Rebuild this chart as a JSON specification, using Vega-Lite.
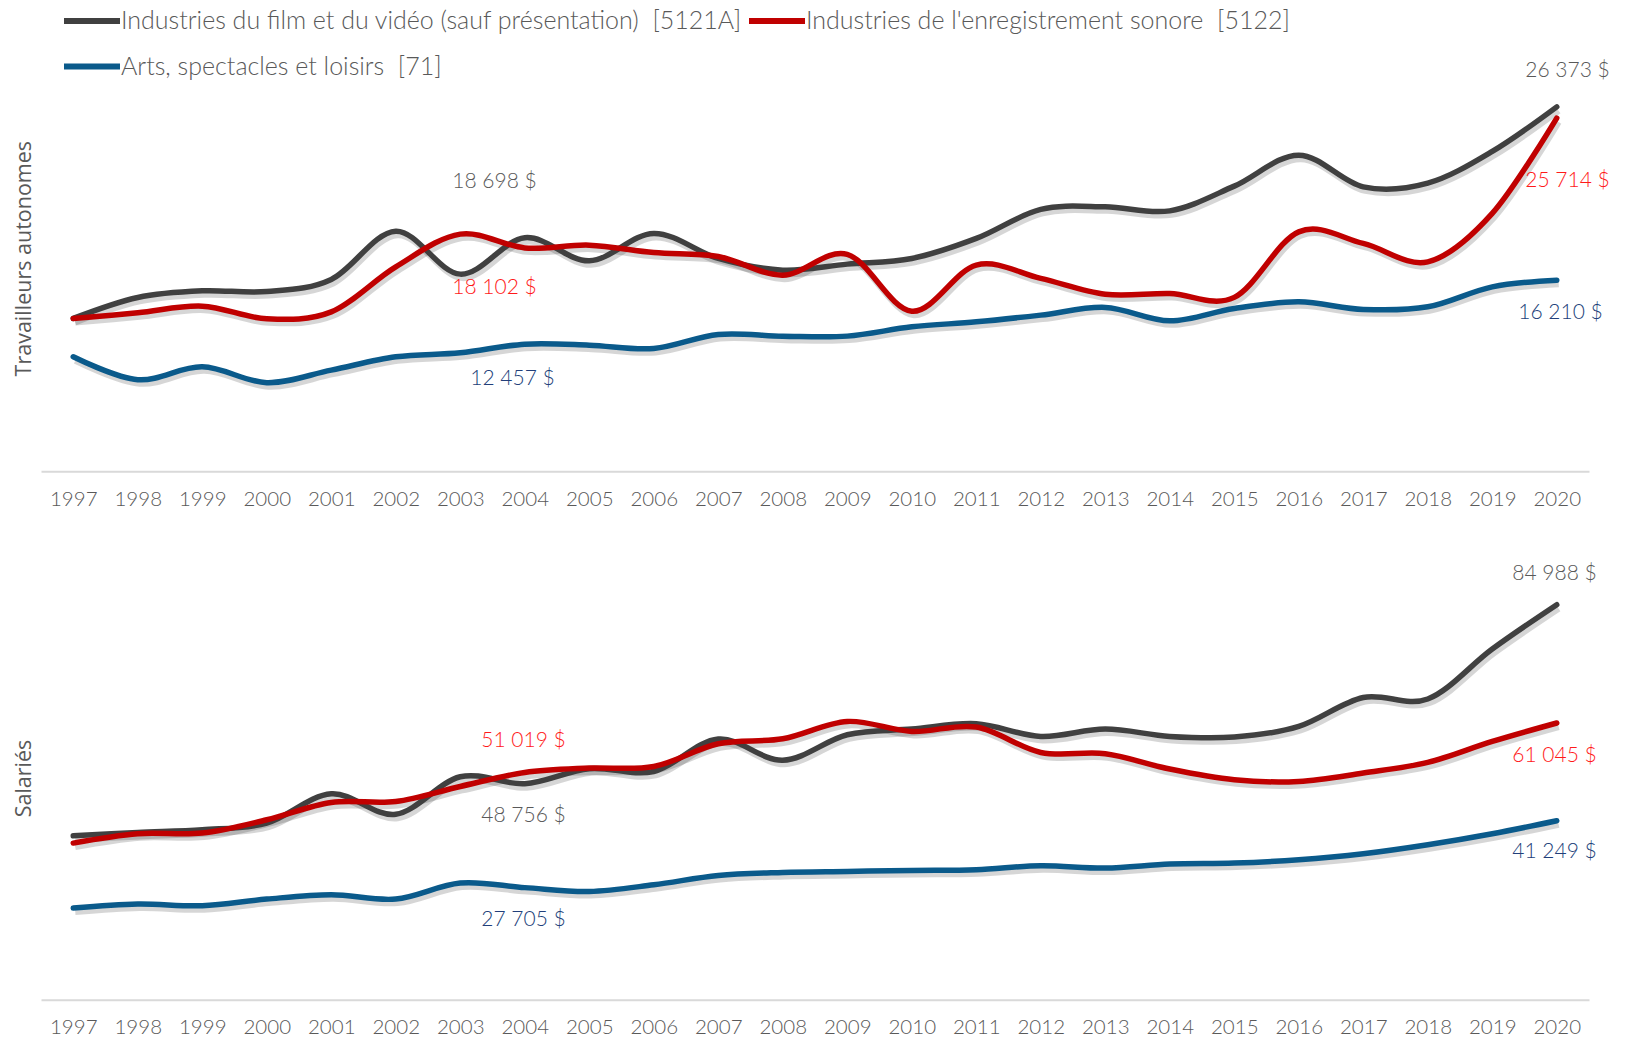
{
  "$schema": "https://vega.github.io/schema/vega-lite/v6.json",
  "background": "white",
  "autosize": {"type": "pad"},
  "padding": {"left": 13, "top": -10, "right": 0, "bottom": 0},
  "bounds": "flush",
  "spacing": 108,
  "config": {
    "locale": {"number": {"decimal": ",", "thousands": "\u00a0", "grouping": [3], "currency": ["", "\u00a0$"]}},
    "view": {"stroke": null},
    "font": "Lato",
    "text": {"fontWeight": 300, "fontSize": 21}
  },
  "datasets": {
    "autonomes": [
      {"code": "5121A", "series": "Industries du film et du vidéo (sauf présentation)\u00a0 [5121A]", "year": 1997, "value": 13965},
      {"code": "5121A", "series": "Industries du film et du vidéo (sauf présentation)\u00a0 [5121A]", "year": 1998, "value": 15196},
      {"code": "5121A", "series": "Industries du film et du vidéo (sauf présentation)\u00a0 [5121A]", "year": 1999, "value": 15583},
      {"code": "5121A", "series": "Industries du film et du vidéo (sauf présentation)\u00a0 [5121A]", "year": 2000, "value": 15544},
      {"code": "5121A", "series": "Industries du film et du vidéo (sauf présentation)\u00a0 [5121A]", "year": 2001, "value": 16252},
      {"code": "5121A", "series": "Industries du film et du vidéo (sauf présentation)\u00a0 [5121A]", "year": 2002, "value": 19084},
      {"code": "5121A", "series": "Industries du film et du vidéo (sauf présentation)\u00a0 [5121A]", "year": 2003, "value": 16563},
      {"code": "5121A", "series": "Industries du film et du vidéo (sauf présentation)\u00a0 [5121A]", "year": 2004, "value": 18698},
      {"code": "5121A", "series": "Industries du film et du vidéo (sauf présentation)\u00a0 [5121A]", "year": 2005, "value": 17342},
      {"code": "5121A", "series": "Industries du film et du vidéo (sauf présentation)\u00a0 [5121A]", "year": 2006, "value": 18949},
      {"code": "5121A", "series": "Industries du film et du vidéo (sauf présentation)\u00a0 [5121A]", "year": 2007, "value": 17483},
      {"code": "5121A", "series": "Industries du film et du vidéo (sauf présentation)\u00a0 [5121A]", "year": 2008, "value": 16797},
      {"code": "5121A", "series": "Industries du film et du vidéo (sauf présentation)\u00a0 [5121A]", "year": 2009, "value": 17149},
      {"code": "5121A", "series": "Industries du film et du vidéo (sauf présentation)\u00a0 [5121A]", "year": 2010, "value": 17483},
      {"code": "5121A", "series": "Industries du film et du vidéo (sauf présentation)\u00a0 [5121A]", "year": 2011, "value": 18656},
      {"code": "5121A", "series": "Industries du film et du vidéo (sauf présentation)\u00a0 [5121A]", "year": 2012, "value": 20356},
      {"code": "5121A", "series": "Industries du film et du vidéo (sauf présentation)\u00a0 [5121A]", "year": 2013, "value": 20509},
      {"code": "5121A", "series": "Industries du film et du vidéo (sauf présentation)\u00a0 [5121A]", "year": 2014, "value": 20274},
      {"code": "5121A", "series": "Industries du film et du vidéo (sauf présentation)\u00a0 [5121A]", "year": 2015, "value": 21723},
      {"code": "5121A", "series": "Industries du film et du vidéo (sauf présentation)\u00a0 [5121A]", "year": 2016, "value": 23541},
      {"code": "5121A", "series": "Industries du film et du vidéo (sauf présentation)\u00a0 [5121A]", "year": 2017, "value": 21682},
      {"code": "5121A", "series": "Industries du film et du vidéo (sauf présentation)\u00a0 [5121A]", "year": 2018, "value": 21900},
      {"code": "5121A", "series": "Industries du film et du vidéo (sauf présentation)\u00a0 [5121A]", "year": 2019, "value": 23760},
      {"code": "5121A", "series": "Industries du film et du vidéo (sauf présentation)\u00a0 [5121A]", "year": 2020, "value": 26373},
      {"code": "5122", "series": "Industries de l'enregistrement sonore\u00a0 [5122]", "year": 1997, "value": 13965},
      {"code": "5122", "series": "Industries de l'enregistrement sonore\u00a0 [5122]", "year": 1998, "value": 14293},
      {"code": "5122", "series": "Industries de l'enregistrement sonore\u00a0 [5122]", "year": 1999, "value": 14686},
      {"code": "5122", "series": "Industries de l'enregistrement sonore\u00a0 [5122]", "year": 2000, "value": 13945},
      {"code": "5122", "series": "Industries de l'enregistrement sonore\u00a0 [5122]", "year": 2001, "value": 14352},
      {"code": "5122", "series": "Industries de l'enregistrement sonore\u00a0 [5122]", "year": 2002, "value": 16991},
      {"code": "5122", "series": "Industries de l'enregistrement sonore\u00a0 [5122]", "year": 2003, "value": 18908},
      {"code": "5122", "series": "Industries de l'enregistrement sonore\u00a0 [5122]", "year": 2004, "value": 18102},
      {"code": "5122", "series": "Industries de l'enregistrement sonore\u00a0 [5122]", "year": 2005, "value": 18263},
      {"code": "5122", "series": "Industries de l'enregistrement sonore\u00a0 [5122]", "year": 2006, "value": 17830},
      {"code": "5122", "series": "Industries de l'enregistrement sonore\u00a0 [5122]", "year": 2007, "value": 17600},
      {"code": "5122", "series": "Industries de l'enregistrement sonore\u00a0 [5122]", "year": 2008, "value": 16504},
      {"code": "5122", "series": "Industries de l'enregistrement sonore\u00a0 [5122]", "year": 2009, "value": 17720},
      {"code": "5122", "series": "Industries de l'enregistrement sonore\u00a0 [5122]", "year": 2010, "value": 14390},
      {"code": "5122", "series": "Industries de l'enregistrement sonore\u00a0 [5122]", "year": 2011, "value": 17095},
      {"code": "5122", "series": "Industries de l'enregistrement sonore\u00a0 [5122]", "year": 2012, "value": 16310},
      {"code": "5122", "series": "Industries de l'enregistrement sonore\u00a0 [5122]", "year": 2013, "value": 15380},
      {"code": "5122", "series": "Industries de l'enregistrement sonore\u00a0 [5122]", "year": 2014, "value": 15430},
      {"code": "5122", "series": "Industries de l'enregistrement sonore\u00a0 [5122]", "year": 2015, "value": 15200},
      {"code": "5122", "series": "Industries de l'enregistrement sonore\u00a0 [5122]", "year": 2016, "value": 19043},
      {"code": "5122", "series": "Industries de l'enregistrement sonore\u00a0 [5122]", "year": 2017, "value": 18363},
      {"code": "5122", "series": "Industries de l'enregistrement sonore\u00a0 [5122]", "year": 2018, "value": 17284},
      {"code": "5122", "series": "Industries de l'enregistrement sonore\u00a0 [5122]", "year": 2019, "value": 20122},
      {"code": "5122", "series": "Industries de l'enregistrement sonore\u00a0 [5122]", "year": 2020, "value": 25714},
      {"code": "71", "series": "Arts, spectacles et loisirs\u00a0 [71]", "year": 1997, "value": 11713},
      {"code": "71", "series": "Arts, spectacles et loisirs\u00a0 [71]", "year": 1998, "value": 10370},
      {"code": "71", "series": "Arts, spectacles et loisirs\u00a0 [71]", "year": 1999, "value": 11127},
      {"code": "71", "series": "Arts, spectacles et loisirs\u00a0 [71]", "year": 2000, "value": 10200},
      {"code": "71", "series": "Arts, spectacles et loisirs\u00a0 [71]", "year": 2001, "value": 10933},
      {"code": "71", "series": "Arts, spectacles et loisirs\u00a0 [71]", "year": 2002, "value": 11713},
      {"code": "71", "series": "Arts, spectacles et loisirs\u00a0 [71]", "year": 2003, "value": 11948},
      {"code": "71", "series": "Arts, spectacles et loisirs\u00a0 [71]", "year": 2004, "value": 12457},
      {"code": "71", "series": "Arts, spectacles et loisirs\u00a0 [71]", "year": 2005, "value": 12399},
      {"code": "71", "series": "Arts, spectacles et loisirs\u00a0 [71]", "year": 2006, "value": 12205},
      {"code": "71", "series": "Arts, spectacles et loisirs\u00a0 [71]", "year": 2007, "value": 13027},
      {"code": "71", "series": "Arts, spectacles et loisirs\u00a0 [71]", "year": 2008, "value": 12927},
      {"code": "71", "series": "Arts, spectacles et loisirs\u00a0 [71]", "year": 2009, "value": 12927},
      {"code": "71", "series": "Arts, spectacles et loisirs\u00a0 [71]", "year": 2010, "value": 13472},
      {"code": "71", "series": "Arts, spectacles et loisirs\u00a0 [71]", "year": 2011, "value": 13765},
      {"code": "71", "series": "Arts, spectacles et loisirs\u00a0 [71]", "year": 2012, "value": 14158},
      {"code": "71", "series": "Arts, spectacles et loisirs\u00a0 [71]", "year": 2013, "value": 14610},
      {"code": "71", "series": "Arts, spectacles et loisirs\u00a0 [71]", "year": 2014, "value": 13824},
      {"code": "71", "series": "Arts, spectacles et loisirs\u00a0 [71]", "year": 2015, "value": 14551},
      {"code": "71", "series": "Arts, spectacles et loisirs\u00a0 [71]", "year": 2016, "value": 14938},
      {"code": "71", "series": "Arts, spectacles et loisirs\u00a0 [71]", "year": 2017, "value": 14492},
      {"code": "71", "series": "Arts, spectacles et loisirs\u00a0 [71]", "year": 2018, "value": 14645},
      {"code": "71", "series": "Arts, spectacles et loisirs\u00a0 [71]", "year": 2019, "value": 15818},
      {"code": "71", "series": "Arts, spectacles et loisirs\u00a0 [71]", "year": 2020, "value": 16210}
    ],
    "salaries": [
      {"code": "5121A", "series": "Industries du film et du vidéo (sauf présentation)\u00a0 [5121A]", "year": 1997, "value": 38210},
      {"code": "5121A", "series": "Industries du film et du vidéo (sauf présentation)\u00a0 [5121A]", "year": 1998, "value": 38885},
      {"code": "5121A", "series": "Industries du film et du vidéo (sauf présentation)\u00a0 [5121A]", "year": 1999, "value": 39425},
      {"code": "5121A", "series": "Industries du film et du vidéo (sauf présentation)\u00a0 [5121A]", "year": 2000, "value": 40775},
      {"code": "5121A", "series": "Industries du film et du vidéo (sauf présentation)\u00a0 [5121A]", "year": 2001, "value": 46715},
      {"code": "5121A", "series": "Industries du film et du vidéo (sauf présentation)\u00a0 [5121A]", "year": 2002, "value": 42565},
      {"code": "5121A", "series": "Industries du film et du vidéo (sauf présentation)\u00a0 [5121A]", "year": 2003, "value": 50150},
      {"code": "5121A", "series": "Industries du film et du vidéo (sauf présentation)\u00a0 [5121A]", "year": 2004, "value": 48756},
      {"code": "5121A", "series": "Industries du film et du vidéo (sauf présentation)\u00a0 [5121A]", "year": 2005, "value": 51800},
      {"code": "5121A", "series": "Industries du film et du vidéo (sauf présentation)\u00a0 [5121A]", "year": 2006, "value": 51232},
      {"code": "5121A", "series": "Industries du film et du vidéo (sauf présentation)\u00a0 [5121A]", "year": 2007, "value": 57800},
      {"code": "5121A", "series": "Industries du film et du vidéo (sauf présentation)\u00a0 [5121A]", "year": 2008, "value": 53500},
      {"code": "5121A", "series": "Industries du film et du vidéo (sauf présentation)\u00a0 [5121A]", "year": 2009, "value": 58663},
      {"code": "5121A", "series": "Industries du film et du vidéo (sauf présentation)\u00a0 [5121A]", "year": 2010, "value": 59817},
      {"code": "5121A", "series": "Industries du film et du vidéo (sauf présentation)\u00a0 [5121A]", "year": 2011, "value": 60890},
      {"code": "5121A", "series": "Industries du film et du vidéo (sauf présentation)\u00a0 [5121A]", "year": 2012, "value": 58325},
      {"code": "5121A", "series": "Industries du film et du vidéo (sauf présentation)\u00a0 [5121A]", "year": 2013, "value": 59817},
      {"code": "5121A", "series": "Industries du film et du vidéo (sauf présentation)\u00a0 [5121A]", "year": 2014, "value": 58325},
      {"code": "5121A", "series": "Industries du film et du vidéo (sauf présentation)\u00a0 [5121A]", "year": 2015, "value": 58197},
      {"code": "5121A", "series": "Industries du film et du vidéo (sauf présentation)\u00a0 [5121A]", "year": 2016, "value": 60344},
      {"code": "5121A", "series": "Industries du film et du vidéo (sauf présentation)\u00a0 [5121A]", "year": 2017, "value": 66200},
      {"code": "5121A", "series": "Industries du film et du vidéo (sauf présentation)\u00a0 [5121A]", "year": 2018, "value": 65900},
      {"code": "5121A", "series": "Industries du film et du vidéo (sauf présentation)\u00a0 [5121A]", "year": 2019, "value": 76017},
      {"code": "5121A", "series": "Industries du film et du vidéo (sauf présentation)\u00a0 [5121A]", "year": 2020, "value": 84988},
      {"code": "5122", "series": "Industries de l'enregistrement sonore\u00a0 [5122]", "year": 1997, "value": 36725},
      {"code": "5122", "series": "Industries de l'enregistrement sonore\u00a0 [5122]", "year": 1998, "value": 38615},
      {"code": "5122", "series": "Industries de l'enregistrement sonore\u00a0 [5122]", "year": 1999, "value": 38750},
      {"code": "5122", "series": "Industries de l'enregistrement sonore\u00a0 [5122]", "year": 2000, "value": 41450},
      {"code": "5122", "series": "Industries de l'enregistrement sonore\u00a0 [5122]", "year": 2001, "value": 44955},
      {"code": "5122", "series": "Industries de l'enregistrement sonore\u00a0 [5122]", "year": 2002, "value": 45158},
      {"code": "5122", "series": "Industries de l'enregistrement sonore\u00a0 [5122]", "year": 2003, "value": 48195},
      {"code": "5122", "series": "Industries de l'enregistrement sonore\u00a0 [5122]", "year": 2004, "value": 51019},
      {"code": "5122", "series": "Industries de l'enregistrement sonore\u00a0 [5122]", "year": 2005, "value": 51920},
      {"code": "5122", "series": "Industries de l'enregistrement sonore\u00a0 [5122]", "year": 2006, "value": 52245},
      {"code": "5122", "series": "Industries de l'enregistrement sonore\u00a0 [5122]", "year": 2007, "value": 56840},
      {"code": "5122", "series": "Industries de l'enregistrement sonore\u00a0 [5122]", "year": 2008, "value": 57853},
      {"code": "5122", "series": "Industries de l'enregistrement sonore\u00a0 [5122]", "year": 2009, "value": 61357},
      {"code": "5122", "series": "Industries de l'enregistrement sonore\u00a0 [5122]", "year": 2010, "value": 59332},
      {"code": "5122", "series": "Industries de l'enregistrement sonore\u00a0 [5122]", "year": 2011, "value": 60222},
      {"code": "5122", "series": "Industries de l'enregistrement sonore\u00a0 [5122]", "year": 2012, "value": 55080},
      {"code": "5122", "series": "Industries de l'enregistrement sonore\u00a0 [5122]", "year": 2013, "value": 54815},
      {"code": "5122", "series": "Industries de l'enregistrement sonore\u00a0 [5122]", "year": 2014, "value": 51718},
      {"code": "5122", "series": "Industries de l'enregistrement sonore\u00a0 [5122]", "year": 2015, "value": 49550},
      {"code": "5122", "series": "Industries de l'enregistrement sonore\u00a0 [5122]", "year": 2016, "value": 49207},
      {"code": "5122", "series": "Industries de l'enregistrement sonore\u00a0 [5122]", "year": 2017, "value": 50908},
      {"code": "5122", "series": "Industries de l'enregistrement sonore\u00a0 [5122]", "year": 2018, "value": 53054},
      {"code": "5122", "series": "Industries de l'enregistrement sonore\u00a0 [5122]", "year": 2019, "value": 57307},
      {"code": "5122", "series": "Industries de l'enregistrement sonore\u00a0 [5122]", "year": 2020, "value": 61045},
      {"code": "71", "series": "Arts, spectacles et loisirs\u00a0 [71]", "year": 1997, "value": 23563},
      {"code": "71", "series": "Arts, spectacles et loisirs\u00a0 [71]", "year": 1998, "value": 24378},
      {"code": "71", "series": "Arts, spectacles et loisirs\u00a0 [71]", "year": 1999, "value": 24035},
      {"code": "71", "series": "Arts, spectacles et loisirs\u00a0 [71]", "year": 2000, "value": 25385},
      {"code": "71", "series": "Arts, spectacles et loisirs\u00a0 [71]", "year": 2001, "value": 26263},
      {"code": "71", "series": "Arts, spectacles et loisirs\u00a0 [71]", "year": 2002, "value": 25385},
      {"code": "71", "series": "Arts, spectacles et loisirs\u00a0 [71]", "year": 2003, "value": 28629},
      {"code": "71", "series": "Arts, spectacles et loisirs\u00a0 [71]", "year": 2004, "value": 27705},
      {"code": "71", "series": "Arts, spectacles et loisirs\u00a0 [71]", "year": 2005, "value": 26932},
      {"code": "71", "series": "Arts, spectacles et loisirs\u00a0 [71]", "year": 2006, "value": 28288},
      {"code": "71", "series": "Arts, spectacles et loisirs\u00a0 [71]", "year": 2007, "value": 30171},
      {"code": "71", "series": "Arts, spectacles et loisirs\u00a0 [71]", "year": 2008, "value": 30779},
      {"code": "71", "series": "Arts, spectacles et loisirs\u00a0 [71]", "year": 2009, "value": 30982},
      {"code": "71", "series": "Arts, spectacles et loisirs\u00a0 [71]", "year": 2010, "value": 31184},
      {"code": "71", "series": "Arts, spectacles et loisirs\u00a0 [71]", "year": 2011, "value": 31325},
      {"code": "71", "series": "Arts, spectacles et loisirs\u00a0 [71]", "year": 2012, "value": 32135},
      {"code": "71", "series": "Arts, spectacles et loisirs\u00a0 [71]", "year": 2013, "value": 31670},
      {"code": "71", "series": "Arts, spectacles et loisirs\u00a0 [71]", "year": 2014, "value": 32478},
      {"code": "71", "series": "Arts, spectacles et loisirs\u00a0 [71]", "year": 2015, "value": 32680},
      {"code": "71", "series": "Arts, spectacles et loisirs\u00a0 [71]", "year": 2016, "value": 33350},
      {"code": "71", "series": "Arts, spectacles et loisirs\u00a0 [71]", "year": 2017, "value": 34565},
      {"code": "71", "series": "Arts, spectacles et loisirs\u00a0 [71]", "year": 2018, "value": 36388},
      {"code": "71", "series": "Arts, spectacles et loisirs\u00a0 [71]", "year": 2019, "value": 38615},
      {"code": "71", "series": "Arts, spectacles et loisirs\u00a0 [71]", "year": 2020, "value": 41249}
    ]
  },
  "resolve": {"scale": {"color": "independent"}},
  "vconcat": [
    {
      "width": 1548,
      "height": 426.3,
      "data": {"name": "autonomes"},
      "encoding": {
        "x": {"field": "year", "type": "ordinal", "scale": {"type": "point", "padding": 0.5},
              "axis": {"title": null, "labelAngle": 0, "labelFontSize": 20.5, "labelFontWeight": 300, "labelColor": "#595959", "labelPadding": 18, "ticks": false, "domainColor": "#D9D9D9", "domainWidth": 2, "grid": false}},
        "y": {"field": "value", "type": "quantitative", "scale": {"domain": [5000, 30000], "nice": false, "zero": false},
              "axis": {"title": "Travailleurs autonomes", "labels": false, "ticks": false, "domain": false, "grid": false, "titleFontSize": 21.5, "titleColor": "#595959", "titleFont": "Open Sans", "titleFontWeight": "normal", "titlePadding": 6}}
      },
      "layer": [
        {"mark": {"type": "line", "interpolate": "cardinal", "tension": 0, "color": "#000000", "opacity": 0.16, "strokeWidth": 6, "xOffset": 2, "yOffset": 4}, "encoding": {"detail": {"field": "series"}}},
        {"mark": {"type": "line", "interpolate": "cardinal", "tension": 0, "strokeWidth": 5.5, "strokeCap": "round", "strokeJoin": "round"},
         "encoding": {"color": {"field": "series", "type": "nominal",
           "scale": {"domain": ["Industries du film et du vidéo (sauf présentation)\u00a0 [5121A]", "Industries de l'enregistrement sonore\u00a0 [5122]", "Arts, spectacles et loisirs\u00a0 [71]"], "range": ["#404040", "#C00000", "#0A5A8B"]},
           "legend": {"title": null, "orient": "none", "legendX": 20, "legendY": -55, "direction": "horizontal", "columns": 2, "symbolType": "stroke", "symbolSize": 3136, "symbolStrokeWidth": 6, "labelFontSize": 25, "labelFontWeight": 300, "labelColor": "#595959", "labelLimit": 0, "columnPadding": -6, "rowPadding": 1.5, "labelOffset": -2}}}},
        {"transform": [{"filter": {"and": [{"field": "code", "equal": "5121A"}, {"field": "year", "equal": 2004}]}}],
         "mark": {"type": "text", "align": "right", "baseline": "middle", "dx": 12, "dy": -56, "color": "#595959"},
         "encoding": {"text": {"field": "value", "type": "quantitative", "format": "$,.0f"}}},
        {"transform": [{"filter": {"and": [{"field": "code", "equal": "5122"}, {"field": "year", "equal": 2004}]}}],
         "mark": {"type": "text", "align": "right", "baseline": "middle", "dx": 12, "dy": 40, "color": "#FF1A1A"},
         "encoding": {"text": {"field": "value", "type": "quantitative", "format": "$,.0f"}}},
        {"transform": [{"filter": {"and": [{"field": "code", "equal": "71"}, {"field": "year", "equal": 2004}]}}],
         "mark": {"type": "text", "align": "right", "baseline": "middle", "dx": 30, "dy": 35, "color": "#223F7A"},
         "encoding": {"text": {"field": "value", "type": "quantitative", "format": "$,.0f"}}},
        {"transform": [{"filter": {"and": [{"field": "code", "equal": "5121A"}, {"field": "year", "equal": 2020}]}}],
         "mark": {"type": "text", "align": "right", "baseline": "middle", "dx": 53, "dy": -36, "color": "#595959"},
         "encoding": {"text": {"field": "value", "type": "quantitative", "format": "$,.0f"}}},
        {"transform": [{"filter": {"and": [{"field": "code", "equal": "5122"}, {"field": "year", "equal": 2020}]}}],
         "mark": {"type": "text", "align": "right", "baseline": "middle", "dx": 53, "dy": 63, "color": "#FF1A1A"},
         "encoding": {"text": {"field": "value", "type": "quantitative", "format": "$,.0f"}}},
        {"transform": [{"filter": {"and": [{"field": "code", "equal": "71"}, {"field": "year", "equal": 2020}]}}],
         "mark": {"type": "text", "align": "right", "baseline": "middle", "dx": 46, "dy": 32.5, "color": "#223F7A"},
         "encoding": {"text": {"field": "value", "type": "quantitative", "format": "$,.0f"}}}
      ]
    },
    {
      "width": 1548,
      "height": 419.75,
      "data": {"name": "salaries"},
      "encoding": {
        "x": {"field": "year", "type": "ordinal", "scale": {"type": "point", "padding": 0.5},
              "axis": {"title": null, "labelAngle": 0, "labelFontSize": 20.5, "labelFontWeight": 300, "labelColor": "#595959", "labelPadding": 18, "ticks": false, "domainColor": "#D9D9D9", "domainWidth": 2, "grid": false}},
        "y": {"field": "value", "type": "quantitative", "scale": {"domain": [5000, 90000], "nice": false, "zero": false},
              "axis": {"title": "Salariés", "labels": false, "ticks": false, "domain": false, "grid": false, "titleFontSize": 21.5, "titleColor": "#595959", "titleFont": "Open Sans", "titleFontWeight": "normal", "titlePadding": 6, "titleY": 198}}
      },
      "layer": [
        {"mark": {"type": "line", "interpolate": "cardinal", "tension": 0, "color": "#000000", "opacity": 0.16, "strokeWidth": 6, "xOffset": 2, "yOffset": 4}, "encoding": {"detail": {"field": "series"}}},
        {"mark": {"type": "line", "interpolate": "cardinal", "tension": 0, "strokeWidth": 5.5, "strokeCap": "round", "strokeJoin": "round"},
         "encoding": {"color": {"field": "series", "type": "nominal",
           "scale": {"domain": ["Industries du film et du vidéo (sauf présentation)\u00a0 [5121A]", "Industries de l'enregistrement sonore\u00a0 [5122]", "Arts, spectacles et loisirs\u00a0 [71]"], "range": ["#404040", "#C00000", "#0A5A8B"]},
           "legend": null}}},
        {"transform": [{"filter": {"and": [{"field": "code", "equal": "5122"}, {"field": "year", "equal": 2004}]}}],
         "mark": {"type": "text", "align": "right", "baseline": "middle", "dx": 41, "dy": -31, "color": "#FF1A1A"},
         "encoding": {"text": {"field": "value", "type": "quantitative", "format": "$,.0f"}}},
        {"transform": [{"filter": {"and": [{"field": "code", "equal": "5121A"}, {"field": "year", "equal": 2004}]}}],
         "mark": {"type": "text", "align": "right", "baseline": "middle", "dx": 41, "dy": 32, "color": "#595959"},
         "encoding": {"text": {"field": "value", "type": "quantitative", "format": "$,.0f"}}},
        {"transform": [{"filter": {"and": [{"field": "code", "equal": "71"}, {"field": "year", "equal": 2004}]}}],
         "mark": {"type": "text", "align": "right", "baseline": "middle", "dx": 41, "dy": 32, "color": "#223F7A"},
         "encoding": {"text": {"field": "value", "type": "quantitative", "format": "$,.0f"}}},
        {"transform": [{"filter": {"and": [{"field": "code", "equal": "5121A"}, {"field": "year", "equal": 2020}]}}],
         "mark": {"type": "text", "align": "right", "baseline": "middle", "dx": 40, "dy": -31, "color": "#595959"},
         "encoding": {"text": {"field": "value", "type": "quantitative", "format": "$,.0f"}}},
        {"transform": [{"filter": {"and": [{"field": "code", "equal": "5122"}, {"field": "year", "equal": 2020}]}}],
         "mark": {"type": "text", "align": "right", "baseline": "middle", "dx": 40, "dy": 33, "color": "#FF1A1A"},
         "encoding": {"text": {"field": "value", "type": "quantitative", "format": "$,.0f"}}},
        {"transform": [{"filter": {"and": [{"field": "code", "equal": "71"}, {"field": "year", "equal": 2020}]}}],
         "mark": {"type": "text", "align": "right", "baseline": "middle", "dx": 40, "dy": 31.5, "color": "#223F7A"},
         "encoding": {"text": {"field": "value", "type": "quantitative", "format": "$,.0f"}}}
      ]
    }
  ]
}
